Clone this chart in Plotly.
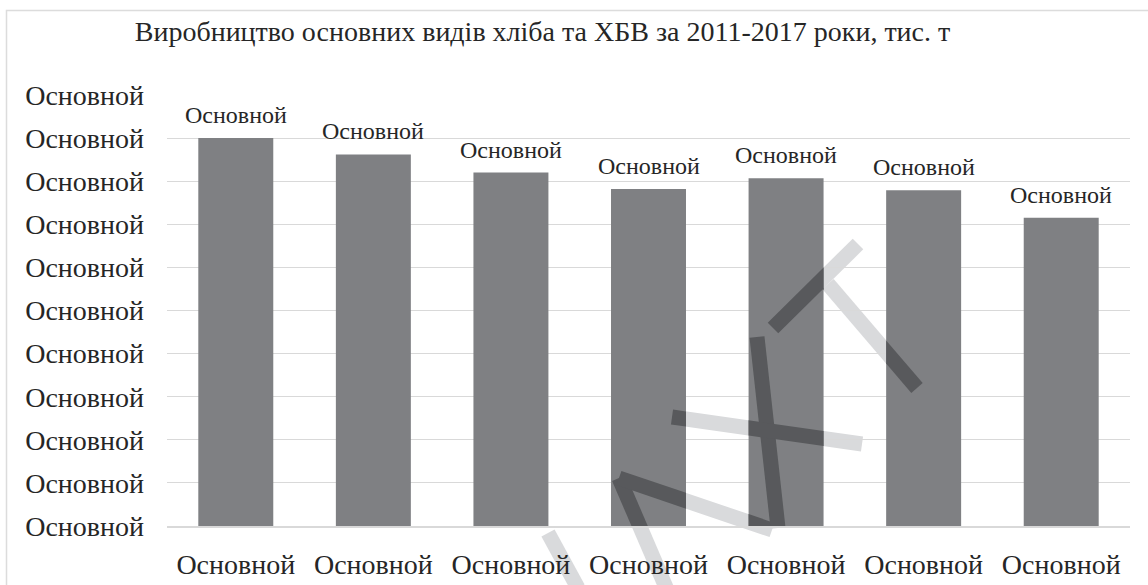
import plotly.graph_objects as go

# ---- data ----
categories = ["Основной"] * 7
values = [9.0, 8.62, 8.20, 7.82, 8.07, 7.79, 7.15]
bar_labels = ["Основной"] * 7
y_tick_values = list(range(0, 11))
y_tick_labels = ["Основной"] * 11
title_text = "Виробництво основних видів хліба та ХБВ за 2011-2017 роки, тис. т"

# ---- layout constants ----
FIG_W, FIG_H = 1148, 585
M_L, M_R, M_T, M_B = 167, 18, 95, 59
PW = FIG_W - M_L - M_R
PH = FIG_H - M_T - M_B
BARGAP = 0.455
FONT = "Liberation Serif"
TXT = "#262626"
GRID = "#d9d9d9"
BAR = "#7f8083"
WM_LIGHT = "#d9dadc"
WM_DARK = "#58595c"

fig = go.Figure()
fig.add_trace(go.Bar(
    x=list(range(len(categories))), y=values,
    marker=dict(color=BAR, line=dict(width=0)),
    hoverinfo="skip",
))

# data labels above bars
for i, (v, t) in enumerate(zip(values, bar_labels)):
    fig.add_annotation(x=i, y=v, text=t, showarrow=False, xref="x", yref="y",
                       yanchor="middle", yshift=23,
                       font=dict(family=FONT, size=24, color=TXT))

# ---- watermark (decoration) ----
def px2paper(px, py):
    return ((px - M_L) / PW, (FIG_H - M_B - py) / PH)

def stroke_poly(p0, p1, w):
    (x0, y0), (x1, y1) = p0, p1
    dx, dy = x1 - x0, y1 - y0
    L = (dx * dx + dy * dy) ** 0.5
    nx, ny = -dy / L * w / 2, dx / L * w / 2
    pts = [(x0 + nx, y0 + ny), (x1 + nx, y1 + ny), (x1 - nx, y1 - ny), (x0 - nx, y0 - ny)]
    return [px2paper(*p) for p in pts]

def clip(poly, xmin, xmax, ymin, ymax):
    def clip_edge(pts, inside, inter):
        out = []
        n = len(pts)
        for k in range(n):
            cur, prev = pts[k], pts[k - 1]
            if inside(cur):
                if not inside(prev):
                    out.append(inter(prev, cur))
                out.append(cur)
            elif inside(prev):
                out.append(inter(prev, cur))
        return out
    def ix(xc):
        return lambda a, b: (xc, a[1] + (b[1] - a[1]) * (xc - a[0]) / (b[0] - a[0]))
    def iy(yc):
        return lambda a, b: (a[0] + (b[0] - a[0]) * (yc - a[1]) / (b[1] - a[1]), yc)
    pts = poly
    for inside, inter in [
        (lambda p: p[0] >= xmin, ix(xmin)), (lambda p: p[0] <= xmax, ix(xmax)),
        (lambda p: p[1] >= ymin, iy(ymin)), (lambda p: p[1] <= ymax, iy(ymax))]:
        if not pts:
            break
        pts = clip_edge(pts, inside, inter)
    return pts

def path_of(pts):
    return "M " + " L ".join(f"{x:.5f},{y:.5f}" for x, y in pts) + " Z"

strokes = [
    ((548, 533), (578, 588)),
    ((619, 478), (668, 592)),
    ((619, 478), (772, 530)),
    ((757, 337), (778, 528)),
    ((672, 417), (862, 444)),
    ((773, 328), (858, 244)),
    ((828, 284), (917, 388)),
]
SW = 15
n = len(values)
bw = 1 - BARGAP
for p0, p1 in strokes:
    poly = stroke_poly(p0, p1, SW)
    fig.add_shape(type="path", path=path_of(poly), xref="paper", yref="paper",
                  fillcolor=WM_LIGHT, line=dict(width=0), layer="below")
    for i, v in enumerate(values):
        xmin = (i + 0.5 - bw / 2) / n
        xmax = (i + 0.5 + bw / 2) / n
        c = clip(poly, xmin, xmax, 0, v / 10)
        if len(c) >= 3:
            fig.add_shape(type="path", path=path_of(c), xref="paper", yref="paper",
                          fillcolor=WM_DARK, line=dict(width=0), layer="above")

# outer chart border
bx0, by0 = px2paper(6.5, 10.5)
bx1, by1 = px2paper(1160, 600)
fig.add_shape(type="rect", xref="paper", yref="paper", x0=bx0, y0=by1, x1=bx1, y1=by0,
              line=dict(color="#dcdcdc", width=1.5), fillcolor="rgba(0,0,0,0)", layer="below")

fig.update_layout(
    width=FIG_W, height=FIG_H,
    margin=dict(l=M_L, r=M_R, t=M_T, b=M_B, autoexpand=False),
    paper_bgcolor="white", plot_bgcolor="rgba(0,0,0,0)",
    bargap=BARGAP, showlegend=False,
    title=dict(text=title_text, xref="container", yref="container",
               x=542.5 / FIG_W, y=1 - 31 / FIG_H, xanchor="center", yanchor="middle",
               font=dict(family=FONT, size=28, color=TXT)),
    xaxis=dict(range=[-0.5, n - 0.5], tickmode="array", tickvals=list(range(n)),
               ticktext=categories, showgrid=False, zeroline=False, automargin=False,
               showline=True, linecolor=GRID, linewidth=1.5, ticks="",
               ticklabelstandoff=13,
               tickfont=dict(family=FONT, size=28, color=TXT), fixedrange=True),
    yaxis=dict(range=[0, 10], tickmode="array", tickvals=y_tick_values,
               ticktext=y_tick_labels, showgrid=True, gridcolor=GRID, gridwidth=1.2,
               automargin=False,
               zeroline=False, showline=False, ticks="", ticklabelstandoff=22,
               tickfont=dict(family=FONT, size=28, color=TXT), fixedrange=True),
    font=dict(family=FONT, color=TXT),
)

fig.write_html("out.html", config={"displayModeBar": False},
               post_script="document.body.style.margin='0px';")
